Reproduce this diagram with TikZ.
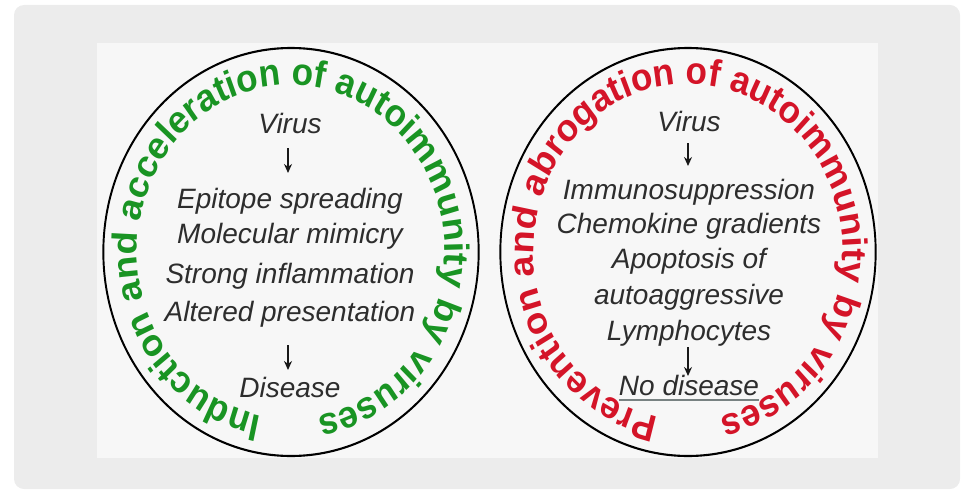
\documentclass[tikz,border=0pt]{standalone}
\usepackage{fontspec}
\setmainfont{Liberation Sans}
\usetikzlibrary{decorations.text,arrows.meta,calc}
\definecolor{bgout}{RGB}{236,236,236}
\definecolor{bgin}{RGB}{247,247,247}
\definecolor{igreen}{RGB}{25,148,35}
\definecolor{ired}{RGB}{212,20,40}
\definecolor{itxt}{RGB}{45,45,45}
\definecolor{ulc}{RGB}{120,130,130}
\tikzset{
  inner/.style={font=\itshape\fontsize{28}{30}\selectfont, text=itxt, inner sep=0pt, anchor=base},
  arr/.style={-{Stealth[length=9pt,width=8pt]}, line width=1.7pt, black!90},
  ring/.style={line width=2.1pt, black},
}
\begin{document}
\begin{tikzpicture}[x=1pt,y=1pt]
\useasboundingbox (0,0) rectangle (965,491);
\fill[bgout, rounded corners=10pt] (14,2) rectangle (960,486);
\fill[bgin] (97,33) rectangle (878,448);
\coordinate (L) at (291,239);
\coordinate (R) at (688,239);
% left ring (circle squeezed horizontally)
\begin{scope}[transform canvas={shift={(291pt,239pt)}, xscale=0.92}]
  \draw[ring] (0,0) circle[radius=204pt];
  \path[decorate, decoration={text along path, text color=igreen,
    text={|\fontsize{38.1}{42}\selectfont\bfseries|Induction and acceleration of autoimmunity by viruses}}]
    (259:167pt) arc[start angle=259, end angle=-100, radius=167pt];
\end{scope}
% right ring
\begin{scope}[transform canvas={shift={(688pt,239pt)}, xscale=0.92}]
  \draw[ring] (0,0) circle[radius=204pt];
  \path[decorate, decoration={text along path, text color=ired,
    text={|\fontsize{38.1}{42}\selectfont\bfseries|Prevention and abrogation of autoimmunity by viruses}}]
    (259:168pt) arc[start angle=259, end angle=-100, radius=168pt];
\end{scope}
% left column
\node[inner] (vL) at (290,358) {Virus};
\node[inner] (eL) at (290,283) {Epitope spreading};
\node[inner] (mL) at (290,248) {Molecular mimicry};
\node[inner] (sL) at (290,208) {Strong inflammation};
\node[inner] (aL) at (290,170) {Altered presentation};
\node[inner] (dL) at (290,94) {Disease};
\coordinate (l1s) at (288,343);
\coordinate (l1e) at (288,318);
\coordinate (l2s) at (288,146);
\coordinate (l2e) at (288,121);
\draw[arr] (l1s) -- (l1e);
\draw[arr] (l2s) -- (l2e);
% right column
\node[inner] (vR) at (689,360) {Virus};
\node[inner] (iR) at (689,292) {Immunosuppression};
\node[inner] (cR) at (689,258) {Chemokine gradients};
\node[inner] (pR) at (689,223) {Apoptosis of};
\node[inner] (gR) at (689,187) {autoaggressive};
\node[inner] (yR) at (689,151) {Lymphocytes};
\node[inner] (nR) at (689,96) {No disease};
\draw[line width=1.5pt, ulc] ([yshift=-5pt]nR.base west) -- ([yshift=-5pt]nR.base east);
\coordinate (r1s) at (688,348);
\coordinate (r1e) at (688,325);
\coordinate (r2s) at (688,144);
\coordinate (r2e) at (688,115);
\draw[arr] (r1s) -- (r1e);
\draw[arr] (r2s) -- (r2e);
\end{tikzpicture}
\end{document}
